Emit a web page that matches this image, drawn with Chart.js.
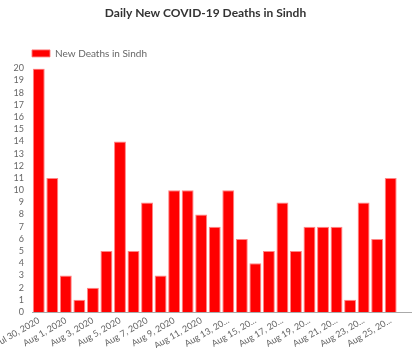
<!DOCTYPE html>
<html>
<head>
<meta charset="utf-8">
<script src="https://cdn.jsdelivr.net/npm/chart.js@4/dist/chart.umd.min.js"></script>
<style>
  html, body { margin: 0; padding: 0; background: #fff; }
  #wrap { width: 415px; height: 348px; }
</style>
</head>
<body>
<div id="wrap"><canvas id="chart" width="415" height="348"></canvas></div>
<script>
// Dates, one per day (last day has no value yet)
const dates = [
  'Jul 30, 2020', 'Jul 31, 2020', 'Aug 1, 2020', 'Aug 2, 2020', 'Aug 3, 2020',
  'Aug 4, 2020', 'Aug 5, 2020', 'Aug 6, 2020', 'Aug 7, 2020', 'Aug 8, 2020',
  'Aug 9, 2020', 'Aug 10, 2020', 'Aug 11, 2020', 'Aug 12, 2020', 'Aug 13, 2020',
  'Aug 14, 2020', 'Aug 15, 2020', 'Aug 16, 2020', 'Aug 17, 2020', 'Aug 18, 2020',
  'Aug 19, 2020', 'Aug 20, 2020', 'Aug 21, 2020', 'Aug 22, 2020', 'Aug 23, 2020',
  'Aug 24, 2020', 'Aug 25, 2020', 'Aug 26, 2020'
];

const newDeaths = [
  20, 11, 3, 1, 2, 5, 14, 5, 9, 3,
  10, 10, 8, 7, 10, 6, 4, 5, 9, 5,
  7, 7, 7, 1, 9, 6, 11, null
];

const seriesLabel = 'New Deaths in Sindh';
const chartTitle = 'Daily New COVID-19 Deaths in Sindh';

Chart.defaults.font.family = "Lato, sans-serif";

function shortLabel(value, index) {
  // only every second date is shown
  if (index % 2 == 1) {
    return '';
  }
  let label = dates[index];
  // long labels get cut off like in the original
  if (index >= 13 && label.length > 10) {
    return label.slice(0, 10) + '...';
  }
  return label;
}

// push the legend in so it lines up with the plot area
const legendShift = {
  id: 'legendShift',
  beforeDraw(chart) {
    let legend = chart.legend;
    if (legend && !legend._shifted) {
      legend.left += 24;
      legend.right += 24;
      legend._shifted = true;
    }
  }
};

let ctx = document.getElementById('chart');

new Chart(ctx, {
  type: 'bar',
  data: {
    labels: dates,
    datasets: [
      {
        label: seriesLabel,
        data: newDeaths,
        backgroundColor: '#ff0000',
        borderColor: 'rgba(255, 120, 120, 0.9)',
        borderWidth: 1,
        categoryPercentage: 1,
        barPercentage: 0.88,
      }
    ]
  },
  options: {
    responsive: false,
    animation: false,
    layout: { padding: { left: 0, right: 4, top: 0, bottom: 0 } },
    scales: {
      x: {
        grid: { display: false, drawTicks: false },
        border: { display: true, color: '#aaa', width: 1 },
        ticks: {
          color: '#666',
          font: { size: 9 },
          minRotation: 30,
          maxRotation: 30,
          autoSkip: false,
          padding: 3,
          callback: shortLabel
        },
        afterFit: (axis) => {
          axis.height = 36;
          // let the first label run off the left edge, as in the original
          axis.paddingLeft = 0;
        }
      },
      y: {
        beginAtZero: true,
        max: 20,
        grid: { display: false, drawTicks: false },
        border: { display: false },
        ticks: {
          color: '#666',
          font: { size: 9 },
          stepSize: 1,
          autoSkip: false,
          padding: 8
        },
        afterFit: (axis) => { axis.width = 32; }
      }
    },
    plugins: {
      title: {
        display: true,
        text: chartTitle,
        color: '#333',
        font: { size: 12, weight: 'bold' },
        padding: { top: 6, bottom: 20 }
      },
      legend: {
        display: true,
        align: 'start',
        labels: {
          boxWidth: 18,
          boxHeight: 7,
          color: '#666',
          font: { size: 10 },
          padding: 8
        }
      }
    }
  },
  plugins: [legendShift]
});
</script>
</body>
</html>
